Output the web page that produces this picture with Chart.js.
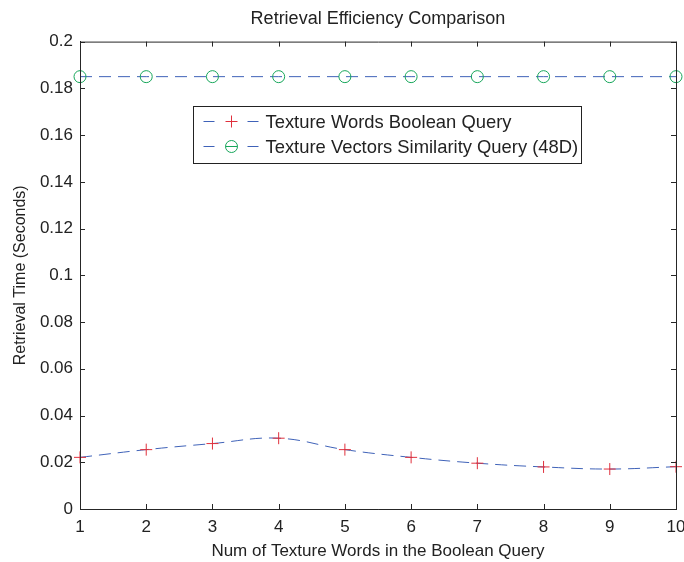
<!DOCTYPE html>
<html>
<head>
<meta charset="utf-8">
<script src="https://cdn.jsdelivr.net/npm/chart.js@4.4.1/dist/chart.umd.min.js"></script>
<style>
html,body{margin:0;padding:0;background:#fff;}
#wrap{width:684px;height:562px;}
</style>
</head>
<body>
<div id="wrap"><canvas id="c" width="684" height="562"></canvas></div>
<script>
const categories = [1, 2, 3, 4, 5, 6, 7, 8, 9, 10];
const booleanQuery = [0.0221, 0.0254, 0.0280, 0.0303, 0.0254, 0.0221, 0.0196, 0.0180, 0.0171, 0.0181];
const similarityQuery = [0.185, 0.185, 0.185, 0.185, 0.185, 0.185, 0.185, 0.185, 0.185, 0.185];
const yTicks = [0, 0.02, 0.04, 0.06, 0.08, 0.1, 0.12, 0.14, 0.16, 0.18, 0.2];
const seriesNames = ['Texture Words Boolean Query', 'Texture Vectors Similarity Query (48D)'];

const FONT = '"Liberation Sans", Arial, Helvetica, sans-serif';
const LINE = '#3f62b8';
const RED = '#e0303c';
const GREEN = '#16a65a';

const boxTicks = {
  id: 'boxTicks',
  afterDatasetsDraw(chart) {
    const {ctx, chartArea: a, scales: {x, y}} = chart;
    const L = 5;
    ctx.save();
    ctx.strokeStyle = '#262626';
    ctx.lineWidth = 1;
    ctx.beginPath();
    ctx.rect(a.left + 0.5, a.top + 0.5, a.right - a.left, a.bottom - a.top);
    ctx.stroke();
    ctx.beginPath();
    categories.forEach(v => {
      const px = Math.round(x.getPixelForValue(v)) + 0.5;
      ctx.moveTo(px, a.bottom); ctx.lineTo(px, a.bottom - L);
      ctx.moveTo(px, a.top); ctx.lineTo(px, a.top + L);
    });
    yTicks.forEach(v => {
      const py = Math.round(y.getPixelForValue(v)) + 0.5;
      ctx.moveTo(a.left, py); ctx.lineTo(a.left + L, py);
      ctx.moveTo(a.right, py); ctx.lineTo(a.right - L, py);
    });
    ctx.stroke();
    ctx.restore();
  },
  afterDraw(chart) {
    const {ctx, chartArea: a} = chart;
    // legend box
    const bx = Math.round(a.left + 113) + 0.5, by = Math.round(a.top + 64) + 0.5, bw = 388, bh = 57;
    ctx.save();
    ctx.fillStyle = '#fff';
    ctx.fillRect(bx, by, bw, bh);
    ctx.strokeStyle = '#222';
    ctx.lineWidth = 1;
    ctx.strokeRect(bx, by, bw, bh);
    const rows = [by + 15, by + 40];
    ctx.font = '18.4px ' + FONT;
    ctx.textBaseline = 'middle';
    rows.forEach((ry, i) => {
      ctx.strokeStyle = LINE;
      ctx.beginPath();
      ctx.moveTo(bx + 10, ry); ctx.lineTo(bx + 21, ry);
      ctx.moveTo(bx + 54, ry); ctx.lineTo(bx + 65, ry);
      ctx.stroke();
      const mx = bx + 38;
      if (i === 0) {
        ctx.strokeStyle = RED;
        ctx.beginPath();
        ctx.moveTo(mx - 6, ry); ctx.lineTo(mx + 6, ry);
        ctx.moveTo(mx, ry - 6); ctx.lineTo(mx, ry + 6);
        ctx.stroke();
      } else {
        ctx.strokeStyle = GREEN;
        ctx.beginPath();
        ctx.arc(mx, ry, 6, 0, Math.PI * 2);
        ctx.moveTo(mx - 6, ry); ctx.lineTo(mx + 6, ry);
        ctx.stroke();
      }
      ctx.fillStyle = '#222';
      ctx.fillText(seriesNames[i], bx + 72, ry + 1);
    });
    ctx.restore();
  }
};

new Chart(document.getElementById('c'), {
  type: 'line',
  data: {
    datasets: [
      {
        label: seriesNames[0],
        data: categories.map((c, i) => ({x: c, y: booleanQuery[i]})),
        borderColor: LINE,
        borderWidth: 1,
        borderDash: [12, 7],
        tension: 0.4,
        pointStyle: 'cross',
        pointRadius: 6,
        pointBorderColor: RED,
        pointBorderWidth: 1,
        pointBackgroundColor: RED,
        fill: false,
        clip: false
      },
      {
        label: seriesNames[1],
        data: categories.map((c, i) => ({x: c, y: similarityQuery[i]})),
        borderColor: LINE,
        borderWidth: 1,
        borderDash: [12, 7],
        pointStyle: 'circle',
        pointRadius: 6,
        pointBorderColor: GREEN,
        pointBorderWidth: 1,
        pointBackgroundColor: 'rgba(0,0,0,0)',
        fill: false,
        clip: false
      }
    ]
  },
  options: {
    responsive: false,
    animation: false,
    layout: {padding: {top: 8, right: 8, left: 0, bottom: 0}},
    plugins: {
      legend: {display: false},
      tooltip: {enabled: false},
      title: {
        display: true,
        fullSize: false,
        text: 'Retrieval Efficiency Comparison',
        color: '#222',
        font: {family: FONT, size: 18, weight: 'normal'},
        padding: {top: 0, bottom: 12}
      }
    },
    scales: {
      x: {
        type: 'linear',
        min: 1, max: 10,
        afterBuildTicks: s => { s.ticks = categories.map(v => ({value: v})); },
        afterFit: s => { s.height = 53; s.paddingRight = 0; s.paddingLeft = 0; },
        grid: {display: false, drawTicks: false},
        border: {display: true, color: '#262626'},
        ticks: {color: '#222', font: {family: FONT, size: 17}, padding: 8, maxRotation: 0},
        title: {display: true, text: 'Num of Texture Words in the Boolean Query', color: '#222',
                font: {family: FONT, size: 17}, padding: {top: 0, bottom: 0}}
      },
      y: {
        type: 'linear',
        min: 0, max: 0.2,
        afterBuildTicks: s => { s.ticks = yTicks.map(v => ({value: v})); },
        afterFit: s => { s.width = 80; },
        grid: {display: false, drawTicks: false},
        border: {display: true, color: '#262626'},
        ticks: {color: '#222', font: {family: FONT, size: 17}, padding: 7,
                callback: v => String(+v.toFixed(2))},
        title: {display: true, text: 'Retrieval Time (Seconds)', color: '#222',
                font: {family: FONT, size: 16}, padding: {top: 11, bottom: 0}}
      }
    }
  },
  plugins: [boxTicks]
});
</script>
</body>
</html>
